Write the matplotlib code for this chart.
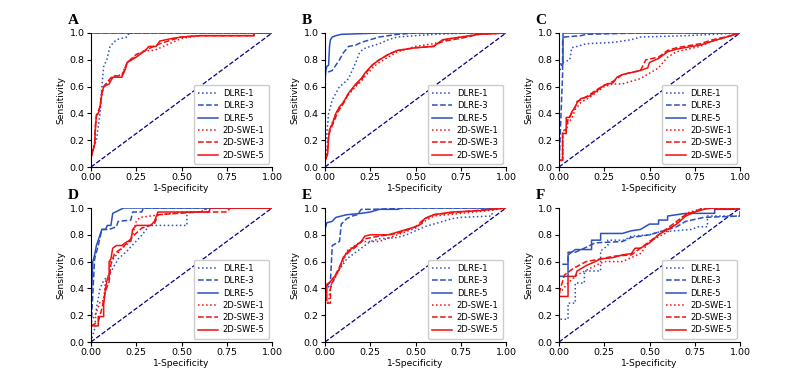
"""ROC curves of DLRE vs 2D-SWE for six cohorts (panels A-F)."""

import matplotlib
matplotlib.use('Agg')
import matplotlib.pyplot as plt
import numpy as np

# ---- data: (1-specificity, sensitivity) points per curve ----
A_DLRE1 = [(0, 0), (0, 0.1), (0.03, 0.2), (0.05, 0.4), (0.06, 0.6), (0.07, 0.75), (0.087, 0.8),
           (0.105, 0.9), (0.14, 0.95), (0.2, 0.97), (0.21, 1.0), (1, 1)]
A_DLRE3 = [(0, 0), (0, 1.0), (1, 1)]
A_DLRE5 = [(0, 0), (0, 1.0), (1, 1)]
A_SWE1 = [(0, 0), (0, 0.08), (0.01, 0.13), (0.02, 0.18), (0.025, 0.3), (0.03, 0.37), (0.05, 0.44),
          (0.06, 0.54), (0.07, 0.6), (0.1, 0.64), (0.12, 0.67), (0.17, 0.69), (0.2, 0.78), (0.25, 0.83),
          (0.3, 0.87), (0.35, 0.87), (0.4, 0.9), (0.45, 0.93), (0.5, 0.96), (0.6, 0.98), (0.9, 0.98),
          (0.9, 1.0), (1, 1)]
A_SWE3 = [(0, 0), (0, 0.07), (0.01, 0.12), (0.02, 0.17), (0.025, 0.32), (0.03, 0.38), (0.05, 0.45),
          (0.06, 0.56), (0.07, 0.6), (0.1, 0.65), (0.12, 0.68), (0.17, 0.68), (0.2, 0.78), (0.25, 0.84),
          (0.3, 0.87), (0.33, 0.89), (0.38, 0.92), (0.45, 0.95), (0.5, 0.97), (0.6, 0.98), (0.9, 0.98),
          (0.9, 1.0), (1, 1)]
A_SWE5 = [(0, 0), (0, 0.07), (0.01, 0.12), (0.02, 0.17), (0.025, 0.3), (0.03, 0.39), (0.04, 0.4),
          (0.05, 0.45), (0.06, 0.55), (0.07, 0.6), (0.1, 0.62), (0.12, 0.67), (0.17, 0.67), (0.19, 0.73),
          (0.2, 0.78), (0.25, 0.82), (0.3, 0.87), (0.32, 0.9), (0.36, 0.9), (0.38, 0.94), (0.45, 0.96),
          (0.5, 0.97), (0.6, 0.98), (0.9, 0.98), (0.9, 1.0), (1, 1)]

B_DLRE1 = [(0, 0), (0, 0.15), (0.01, 0.25), (0.02, 0.4), (0.04, 0.5), (0.06, 0.55), (0.08, 0.6),
           (0.1, 0.62), (0.13, 0.66), (0.15, 0.72), (0.17, 0.78), (0.19, 0.85), (0.21, 0.88),
           (0.25, 0.9), (0.3, 0.92), (0.35, 0.95), (0.4, 0.97), (0.5, 0.98), (0.6, 0.99), (0.8, 1.0), (1, 1)]
B_DLRE3 = [(0, 0), (0, 0.7), (0.02, 0.71), (0.04, 0.72), (0.06, 0.76), (0.08, 0.8), (0.1, 0.85),
           (0.13, 0.9), (0.17, 0.91), (0.2, 0.93), (0.25, 0.95), (0.3, 0.97), (0.4, 0.99), (0.5, 1.0), (1, 1)]
B_DLRE5 = [(0, 0), (0, 0.65), (0.005, 0.72), (0.01, 0.75), (0.02, 0.76), (0.025, 0.9), (0.03, 0.95),
           (0.04, 0.97), (0.06, 0.98), (0.09, 0.99), (0.3, 1.0), (1, 1)]
B_SWE1 = [(0, 0), (0, 0.05), (0.01, 0.1), (0.02, 0.25), (0.04, 0.33), (0.06, 0.4), (0.08, 0.44),
          (0.1, 0.48), (0.13, 0.54), (0.17, 0.6), (0.2, 0.64), (0.23, 0.69), (0.27, 0.75), (0.3, 0.78),
          (0.35, 0.82), (0.4, 0.86), (0.5, 0.9), (0.6, 0.92), (0.63, 0.93), (0.66, 0.95), (0.75, 0.97),
          (0.85, 0.99), (1, 1)]
B_SWE3 = [(0, 0), (0, 0.04), (0.01, 0.09), (0.02, 0.23), (0.03, 0.28), (0.05, 0.34), (0.07, 0.41),
          (0.1, 0.47), (0.13, 0.55), (0.17, 0.61), (0.2, 0.65), (0.23, 0.71), (0.27, 0.77), (0.3, 0.8),
          (0.35, 0.84), (0.4, 0.87), (0.5, 0.89), (0.6, 0.9), (0.62, 0.92), (0.66, 0.94), (0.75, 0.96),
          (0.85, 0.99), (1, 1)]
B_SWE5 = [(0, 0), (0, 0.04), (0.01, 0.08), (0.015, 0.1), (0.02, 0.22), (0.025, 0.28), (0.04, 0.32),
          (0.06, 0.4), (0.08, 0.45), (0.1, 0.48), (0.13, 0.55), (0.17, 0.62), (0.2, 0.66), (0.22, 0.7),
          (0.26, 0.76), (0.3, 0.8), (0.35, 0.84), (0.4, 0.87), (0.5, 0.89), (0.6, 0.9), (0.62, 0.92),
          (0.65, 0.95), (0.75, 0.97), (0.85, 0.99), (1, 1)]

C_DLRE1 = [(0, 0), (0, 0.7), (0.02, 0.78), (0.06, 0.8), (0.07, 0.89), (0.1, 0.9), (0.15, 0.92),
           (0.3, 0.93), (0.4, 0.95), (0.45, 0.97), (0.7, 0.98), (0.85, 0.99), (1, 1)]
C_DLRE3 = [(0, 0), (0.02, 0.7), (0.02, 0.94), (0.03, 0.97), (0.12, 0.98), (0.15, 0.99), (0.45, 1.0), (1, 1)]
C_DLRE5 = [(0, 0), (0, 0.77), (0.02, 0.77), (0.02, 1.0), (1, 1)]
C_SWE1 = [(0, 0), (0, 0.05), (0.02, 0.05), (0.02, 0.25), (0.04, 0.27), (0.05, 0.33), (0.07, 0.36),
          (0.09, 0.43), (0.12, 0.48), (0.17, 0.52), (0.2, 0.55), (0.25, 0.6), (0.3, 0.62), (0.35, 0.62),
          (0.45, 0.66), (0.5, 0.7), (0.55, 0.74), (0.6, 0.82), (0.65, 0.86), (0.78, 0.9), (0.85, 0.94),
          (0.95, 0.98), (1, 1)]
C_SWE3 = [(0, 0), (0, 0.05), (0.02, 0.05), (0.02, 0.27), (0.04, 0.28), (0.05, 0.36), (0.07, 0.4),
          (0.09, 0.45), (0.1, 0.49), (0.12, 0.5), (0.17, 0.54), (0.2, 0.57), (0.25, 0.61), (0.3, 0.64),
          (0.32, 0.66), (0.35, 0.69), (0.45, 0.72), (0.48, 0.8), (0.55, 0.82), (0.6, 0.87), (0.65, 0.89),
          (0.78, 0.92), (0.85, 0.95), (0.95, 0.98), (1, 1)]
C_SWE5 = [(0, 0), (0, 0.05), (0.02, 0.05), (0.02, 0.25), (0.04, 0.25), (0.04, 0.37), (0.06, 0.37),
          (0.07, 0.41), (0.09, 0.45), (0.1, 0.48), (0.12, 0.51), (0.17, 0.53), (0.2, 0.56), (0.25, 0.61),
          (0.3, 0.63), (0.32, 0.67), (0.35, 0.69), (0.45, 0.72), (0.49, 0.74), (0.5, 0.78), (0.55, 0.81),
          (0.6, 0.86), (0.65, 0.88), (0.78, 0.91), (0.85, 0.94), (0.95, 0.98), (1, 1)]

D_DLRE1 = [(0, 0), (0.02, 0.1), (0.03, 0.25), (0.05, 0.4), (0.07, 0.46), (0.1, 0.5), (0.15, 0.62),
           (0.2, 0.68), (0.24, 0.74), (0.27, 0.78), (0.3, 0.83), (0.32, 0.87), (0.53, 0.87), (0.53, 0.97),
           (0.63, 0.97), (0.63, 1.0), (1, 1)]
D_DLRE3 = [(0, 0), (0, 0.1), (0.02, 0.62), (0.04, 0.72), (0.06, 0.84), (0.1, 0.84), (0.14, 0.86),
           (0.15, 0.9), (0.22, 0.91), (0.23, 0.97), (0.28, 0.97), (0.29, 1.0), (1, 1)]
D_DLRE5 = [(0, 0), (0, 0.28), (0.01, 0.6), (0.02, 0.65), (0.03, 0.72), (0.05, 0.8), (0.06, 0.84),
           (0.08, 0.84), (0.09, 0.87), (0.11, 0.87), (0.12, 0.96), (0.15, 0.98), (0.18, 1.0), (1, 1)]
D_SWE1 = [(0, 0), (0, 0.15), (0.03, 0.22), (0.05, 0.3), (0.07, 0.31), (0.08, 0.45), (0.1, 0.5),
          (0.11, 0.6), (0.14, 0.65), (0.17, 0.7), (0.2, 0.73), (0.23, 0.8), (0.25, 0.9), (0.27, 0.93),
          (0.5, 0.97), (0.6, 0.97), (0.65, 1.0), (1, 1)]
D_SWE3 = [(0, 0), (0, 0.12), (0.04, 0.15), (0.06, 0.25), (0.08, 0.38), (0.1, 0.45), (0.11, 0.58),
          (0.13, 0.66), (0.17, 0.7), (0.2, 0.74), (0.24, 0.8), (0.28, 0.85), (0.35, 0.88), (0.37, 0.95),
          (0.6, 0.97), (0.75, 0.97), (0.77, 1.0), (1, 1)]
D_SWE5 = [(0, 0), (0, 0.12), (0.04, 0.12), (0.04, 0.19), (0.07, 0.19), (0.07, 0.28), (0.08, 0.4),
          (0.09, 0.47), (0.1, 0.47), (0.1, 0.6), (0.11, 0.62), (0.12, 0.7), (0.14, 0.72), (0.17, 0.72),
          (0.2, 0.75), (0.22, 0.75), (0.23, 0.84), (0.25, 0.87), (0.33, 0.87), (0.35, 0.9), (0.37, 0.97),
          (0.65, 0.97), (0.66, 1.0), (1, 1)]

E_DLRE1 = [(0, 0), (0, 0.4), (0.03, 0.42), (0.05, 0.46), (0.07, 0.52), (0.1, 0.58), (0.12, 0.62),
           (0.15, 0.65), (0.2, 0.7), (0.25, 0.75), (0.3, 0.77), (0.4, 0.78), (0.45, 0.8), (0.5, 0.83),
           (0.55, 0.86), (0.6, 0.88), (0.7, 0.92), (0.75, 0.93), (0.92, 0.94), (0.93, 1.0), (1, 1)]
E_DLRE3 = [(0, 0), (0, 0.4), (0.03, 0.45), (0.04, 0.72), (0.08, 0.75), (0.09, 0.88), (0.12, 0.92),
           (0.15, 0.94), (0.18, 0.95), (0.2, 0.99), (0.25, 0.99), (0.5, 1.0), (1, 1)]
E_DLRE5 = [(0, 0), (0, 0.84), (0.01, 0.89), (0.04, 0.9), (0.06, 0.93), (0.12, 0.95), (0.2, 0.96),
           (0.25, 0.97), (0.3, 0.99), (0.4, 0.99), (0.42, 1.0), (1, 1)]
E_SWE1 = [(0, 0), (0, 0.28), (0.02, 0.3), (0.03, 0.42), (0.05, 0.47), (0.07, 0.52), (0.1, 0.6),
          (0.12, 0.68), (0.2, 0.75), (0.3, 0.75), (0.4, 0.8), (0.5, 0.85), (0.55, 0.9), (0.6, 0.94),
          (0.75, 0.96), (0.9, 0.98), (1, 1)]
E_SWE3 = [(0, 0), (0, 0.29), (0.03, 0.29), (0.03, 0.4), (0.05, 0.48), (0.08, 0.56), (0.1, 0.62),
          (0.13, 0.67), (0.17, 0.71), (0.22, 0.77), (0.3, 0.79), (0.4, 0.81), (0.5, 0.86), (0.55, 0.92),
          (0.6, 0.95), (0.75, 0.97), (0.9, 0.99), (1, 1)]
E_SWE5 = [(0, 0), (0, 0.31), (0.01, 0.31), (0.01, 0.43), (0.03, 0.45), (0.04, 0.47), (0.06, 0.5),
          (0.08, 0.55), (0.1, 0.63), (0.13, 0.68), (0.15, 0.7), (0.2, 0.75), (0.22, 0.79), (0.25, 0.8),
          (0.35, 0.8), (0.4, 0.82), (0.45, 0.84), (0.5, 0.86), (0.53, 0.88), (0.55, 0.92), (0.6, 0.95),
          (0.7, 0.97), (0.85, 0.98), (1, 1)]

F_DLRE1 = [(0, 0), (0, 0.17), (0.05, 0.17), (0.05, 0.29), (0.09, 0.29), (0.09, 0.44), (0.14, 0.44),
           (0.14, 0.53), (0.23, 0.53), (0.23, 0.68), (0.27, 0.72), (0.27, 0.76), (0.36, 0.76), (0.4, 0.79),
           (0.5, 0.8), (0.55, 0.82), (0.73, 0.84), (0.77, 0.86), (0.82, 0.86), (0.82, 0.94), (1, 0.94), (1, 1)]
F_DLRE3 = [(0, 0), (0, 0.58), (0.05, 0.58), (0.05, 0.67), (0.09, 0.67), (0.14, 0.7), (0.2, 0.74),
           (0.35, 0.75), (0.4, 0.78), (0.5, 0.8), (0.55, 0.82), (0.65, 0.86), (0.7, 0.9), (0.8, 0.93),
           (1, 0.94), (1, 1)]
F_DLRE5 = [(0, 0), (0, 0.49), (0.05, 0.49), (0.05, 0.65), (0.09, 0.69), (0.18, 0.69), (0.18, 0.76),
           (0.23, 0.76), (0.23, 0.81), (0.35, 0.81), (0.4, 0.83), (0.45, 0.84), (0.5, 0.88), (0.55, 0.88),
           (0.55, 0.91), (0.6, 0.91), (0.6, 0.94), (0.7, 0.96), (0.86, 0.96), (0.86, 0.99), (1, 0.99), (1, 1)]
F_SWE1 = [(0, 0), (0, 0.36), (0.05, 0.44), (0.1, 0.5), (0.2, 0.57), (0.25, 0.6), (0.35, 0.6),
          (0.45, 0.66), (0.5, 0.75), (0.6, 0.82), (0.7, 0.96), (0.8, 1.0), (1, 1)]
F_SWE3 = [(0, 0), (0, 0.36), (0.03, 0.5), (0.08, 0.55), (0.15, 0.6), (0.23, 0.62), (0.3, 0.64),
          (0.4, 0.65), (0.5, 0.75), (0.6, 0.85), (0.7, 0.95), (0.8, 1.0), (1, 1)]
F_SWE5 = [(0, 0), (0, 0.34), (0.05, 0.34), (0.05, 0.49), (0.09, 0.49), (0.1, 0.53), (0.15, 0.57),
          (0.2, 0.6), (0.23, 0.62), (0.3, 0.63), (0.35, 0.65), (0.4, 0.66), (0.42, 0.7), (0.45, 0.7),
          (0.5, 0.74), (0.55, 0.8), (0.6, 0.84), (0.65, 0.88), (0.7, 0.94), (0.75, 0.97), (0.8, 0.99),
          (0.85, 1.0), (1, 1)]

PANEL_LABELS = ['A', 'B', 'C', 'D', 'E', 'F']
CURVE_NAMES = ['DLRE-1', 'DLRE-3', 'DLRE-5', '2D-SWE-1', '2D-SWE-3', '2D-SWE-5']
PANELS = [
    [A_DLRE1, A_DLRE3, A_DLRE5, A_SWE1, A_SWE3, A_SWE5],
    [B_DLRE1, B_DLRE3, B_DLRE5, B_SWE1, B_SWE3, B_SWE5],
    [C_DLRE1, C_DLRE3, C_DLRE5, C_SWE1, C_SWE3, C_SWE5],
    [D_DLRE1, D_DLRE3, D_DLRE5, D_SWE1, D_SWE3, D_SWE5],
    [E_DLRE1, E_DLRE3, E_DLRE5, E_SWE1, E_SWE3, E_SWE5],
    [F_DLRE1, F_DLRE3, F_DLRE5, F_SWE1, F_SWE3, F_SWE5],
]

BLUE = '#2c4fbd'
RED = '#f01010'
STYLES = [(BLUE, ':'), (BLUE, '--'), (BLUE, '-'), (RED, ':'), (RED, '--'), (RED, '-')]

fig = plt.figure(figsize=(8.01, 3.72), dpi=100)

lefts = [91, 325, 559]
bottoms = [167, 342]
ax_w, ax_h = 181, 134

for i, (label, curves) in enumerate(zip(PANEL_LABELS, PANELS)):
    row, col = divmod(i, 3)
    ax = fig.add_axes([lefts[col] / 801, 1 - bottoms[row] / 372, ax_w / 801, ax_h / 372])

    ax.plot([0, 1], [0, 1], color='navy', linestyle='--', lw=0.9)
    for pts, name, (color, ls) in zip(curves, CURVE_NAMES, STYLES):
        xy = np.array(pts).T
        ax.plot(xy[0], xy[1], color=color, linestyle=ls, lw=1.1, label=name)

    ax.set_xlim(0, 1)
    ax.set_ylim(0, 1)
    ax.set_xticks([0, 0.25, 0.5, 0.75, 1.0])
    ax.set_xticklabels(['0.00', '0.25', '0.50', '0.75', '1.00'])
    ax.set_yticks([0, 0.2, 0.4, 0.6, 0.8, 1.0])
    ax.set_yticklabels(['0.0', '0.2', '0.4', '0.6', '0.8', '1.0'])
    ax.tick_params(labelsize=6.8, length=3, width=0.8, pad=1.5)
    ax.set_xlabel('1-Specificity', fontsize=6.6, labelpad=1)
    ax.set_ylabel('Sensitivity', fontsize=6.6, labelpad=3)
    ax.spines['top'].set_visible(False)
    ax.spines['right'].set_visible(False)

    ax.legend(loc='lower right', fontsize=6.0, handlelength=2.4, handletextpad=0.5,
              labelspacing=0.4, borderpad=0.5, borderaxespad=0.4, frameon=True,
              fancybox=True, framealpha=1.0)
    ax.text(-0.13, 1.09, label, transform=ax.transAxes, fontsize=11, fontweight='bold',
            family='Liberation Serif', ha='left', va='center')

plt.savefig('out.png', dpi=100)
